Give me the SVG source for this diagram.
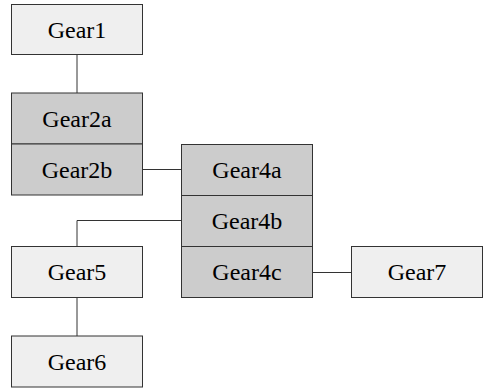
<svg xmlns="http://www.w3.org/2000/svg" width="486" height="390" viewBox="0 0 486 390">
<style>
.l{fill:#efefef;stroke:#333;stroke-width:1}
.d{fill:#cccccc;stroke:#333;stroke-width:1}
.t{font-family:'Liberation Serif','Times New Roman',serif;font-size:24px;fill:#000;text-anchor:middle}
.c{fill:none;stroke:#333;stroke-width:1}
</style>
<rect width="486" height="390" fill="#fff"/>
<g id="connectors">
<path class="c" d="M77,54.5V93"/>
<path class="c" d="M142.5,169.5H181.5"/>
<path class="c" d="M181.5,220.5H77V246.5"/>
<path class="c" d="M312.5,272.5H351.5"/>
<path class="c" d="M77,297.5V336"/>
</g>
<g id="Gear1"><rect class="l" x="11.5" y="4.5" width="131" height="50"/><text class="t" x="77" y="37.5">Gear1</text></g>
<g id="Gear2"><rect class="d" x="11.5" y="93" width="131" height="51"/><text class="t" x="77" y="126.5">Gear2a</text>
<rect class="d" x="11.5" y="144" width="131" height="51"/><text class="t" x="77" y="177.5">Gear2b</text></g>
<g id="Gear4"><rect class="d" x="181.5" y="144.5" width="131" height="51"/><text class="t" x="247" y="178">Gear4a</text>
<rect class="d" x="181.5" y="195.5" width="131" height="51"/><text class="t" x="247" y="229">Gear4b</text>
<rect class="d" x="181.5" y="246.5" width="131" height="51"/><text class="t" x="247" y="280">Gear4c</text></g>
<g id="Gear5"><rect class="l" x="11.5" y="246.5" width="131" height="51"/><text class="t" x="77" y="280">Gear5</text></g>
<g id="Gear6"><rect class="l" x="11.5" y="336" width="131" height="51"/><text class="t" x="77" y="369.5">Gear6</text></g>
<g id="Gear7"><rect class="l" x="351.5" y="246.5" width="131" height="51"/><text class="t" x="417" y="280">Gear7</text></g>
</svg>
